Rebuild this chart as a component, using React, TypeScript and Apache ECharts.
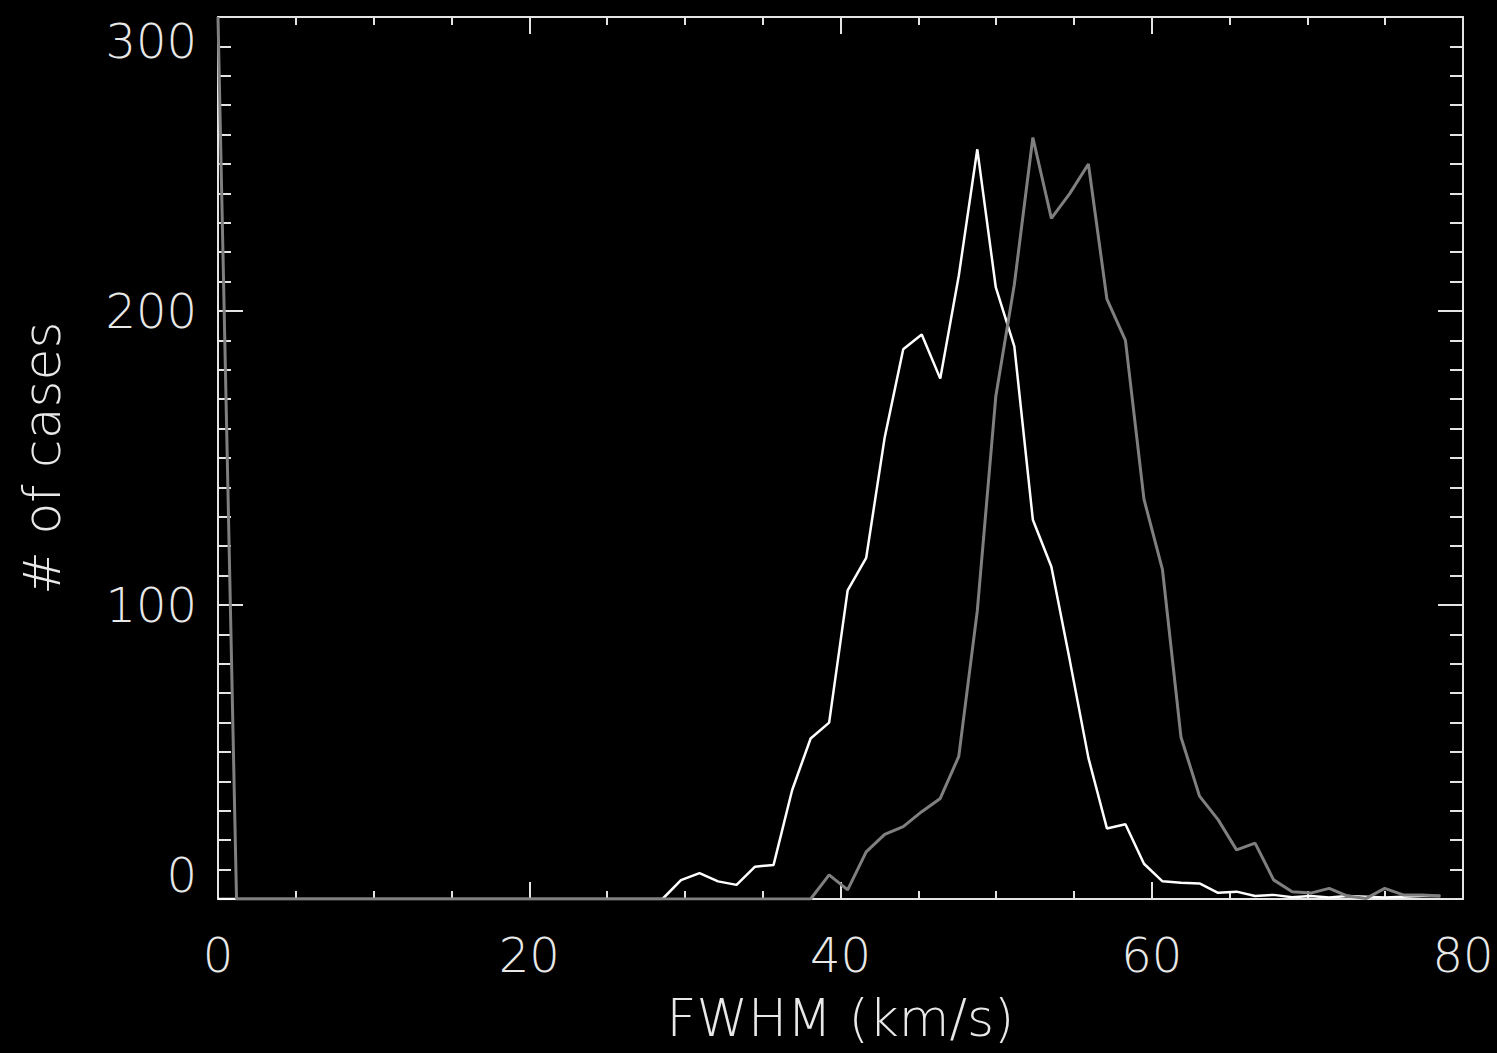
import React, { useEffect, useRef } from "react";
import * as echarts from "echarts";

// Histogram bin centres (km/s)
const BIN_CENTERS = [
  0, 1.19, 2.38, 3.57, 4.76, 5.95, 7.14, 8.33, 9.52, 10.71,
  11.9, 13.09, 14.28, 15.47, 16.66, 17.85, 19.04, 20.23, 21.42, 22.61,
  23.8, 24.99, 26.18, 27.37, 28.56, 29.75, 30.94, 32.13, 33.32, 34.51,
  35.7, 36.89, 38.08, 39.27, 40.46, 41.65, 42.84, 44.03, 45.22, 46.41,
  47.6, 48.79, 49.98, 51.17, 52.36, 53.55, 54.74, 55.93, 57.12, 58.31,
  59.5, 60.69, 61.88, 63.07, 64.26, 65.45, 66.64, 67.83, 69.02, 70.21,
  71.4, 72.59, 73.78, 74.97, 76.16, 77.35, 78.54,
];

// White curve: number of cases per bin
const WHITE_COUNTS = [
  0, 0, 0, 0, 0, 0, 0, 0, 0, 0,
  0, 0, 0, 0, 0, 0, 0, 0, 0, 0,
  0, 0, 0, 0, 0, 6.4, 8.8, 6, 4.8, 11,
  11.6, 37, 54.6, 60, 105, 116, 157, 187, 192, 177,
  212, 255, 208, 188, 129, 113, 81, 48, 24, 25.4,
  12, 6, 5.5, 5.3, 2.1, 2.5, 1, 1.4, 0.6, 1,
  0.5, 1, 0.8, 0.5, 0.8, 1, 1,
];

// Grey curve: number of cases per bin
const GRAY_COUNTS = [
  300, 0, 0, 0, 0, 0, 0, 0, 0, 0,
  0, 0, 0, 0, 0, 0, 0, 0, 0, 0,
  0, 0, 0, 0, 0, 0, 0, 0, 0, 0,
  0, 0, 0, 8.2, 3.1, 16, 22, 24.6, 29.7, 34.2,
  48.5, 98, 171, 209, 259, 231.5, 240, 250, 204, 190,
  136, 112, 55, 35, 27, 16.7, 19, 6.5, 2.5, 2,
  3.6, 1, 0.2, 3.6, 1.4, 1.4, 1,
];

const X_MIN = 0;
const X_MAX = 80;
const X_STEP = 20;
const Y_MIN = 0;
const Y_MAX = 300;
const Y_STEP = 100;

const X_TITLE = "FWHM (km/s)";
const Y_TITLE = "# of cases";

const FONT = "'DejaVu Sans', sans-serif";
const AXIS_COLOR = "#e4e4e4";
const TEXT_COLOR = "#e8e8e8";

export default function App() {
  const ref = useRef<HTMLDivElement>(null);

  useEffect(() => {
    document.body.style.margin = "0";
    document.body.style.background = "#000";
    if (!ref.current) return;
    const chart = echarts.init(ref.current, undefined, { renderer: "svg" });

    const whiteData = BIN_CENTERS.map((x, i) => [x, WHITE_COUNTS[i]]);
    const grayData = BIN_CENTERS.map((x, i) => [x, GRAY_COUNTS[i]]);

    const lineStyle = { color: AXIS_COLOR, width: 2 };
    const labelStyle = {
      color: TEXT_COLOR,
      fontSize: 48,
      fontFamily: FONT,
      fontWeight: 200 as any,
    };
    const nameStyle = { ...labelStyle, fontSize: 52 };

    const xCommon = {
      type: "value" as const,
      min: X_MIN,
      max: X_MAX,
      interval: X_STEP,
      splitLine: { show: false },
      minorSplitLine: { show: false },
      axisLine: { show: true, onZero: false, lineStyle },
      axisTick: { show: true, inside: true, length: 17, lineStyle },
      minorTick: { show: true, splitNumber: 4, length: 8, lineStyle },
    };
    const yCommon = {
      type: "value" as const,
      min: Y_MIN,
      max: Y_MAX,
      interval: Y_STEP,
      splitLine: { show: false },
      minorSplitLine: { show: false },
      axisLine: { show: true, onZero: false, lineStyle },
      axisTick: { show: true, inside: true, length: 25, lineStyle },
      minorTick: { show: true, splitNumber: 10, length: 13, lineStyle },
    };

    chart.setOption({
      animation: false,
      backgroundColor: "#000000",
      grid: {
        left: 218,
        top: 17,
        right: 34,
        bottom: 154,
        containLabel: false,
        outerBoundsMode: "none",
      },
      xAxis: [
        {
          ...xCommon,
          position: "bottom",
          axisLabel: { ...labelStyle, margin: 32 },
          name: X_TITLE,
          nameLocation: "middle",
          nameGap: 93,
          nameTextStyle: nameStyle,
        },
        {
          ...xCommon,
          position: "top",
          axisLabel: { show: false },
        },
      ],
      yAxis: [
        {
          ...yCommon,
          position: "left",
          axisLabel: {
            ...labelStyle,
            margin: 21,
            verticalAlignMinLabel: "bottom",
            verticalAlignMaxLabel: "top",
            padding: [0, 0, 0, 0],
          },
          name: Y_TITLE,
          nameLocation: "middle",
          nameGap: 150,
          nameRotate: 90,
          nameTextStyle: nameStyle,
        },
        {
          ...yCommon,
          position: "right",
          axisLabel: { show: false },
        },
      ],
      series: [
        {
          type: "line",
          name: "white",
          data: whiteData,
          xAxisIndex: 0,
          yAxisIndex: 0,
          showSymbol: false,
          symbol: "none",
          lineStyle: { color: "#ffffff", width: 2.5 },
          z: 3,
        },
        {
          type: "line",
          name: "grey",
          data: grayData,
          xAxisIndex: 0,
          yAxisIndex: 0,
          showSymbol: false,
          symbol: "none",
          lineStyle: { color: "#7f7f7f", width: 3 },
          z: 4,
        },
      ],
    });

    return () => chart.dispose();
  }, []);

  return (
    <div
      ref={ref}
      style={{
        position: "fixed",
        left: 0,
        top: 0,
        width: 1497,
        height: 1053,
        background: "#000",
      }}
    />
  );
}
